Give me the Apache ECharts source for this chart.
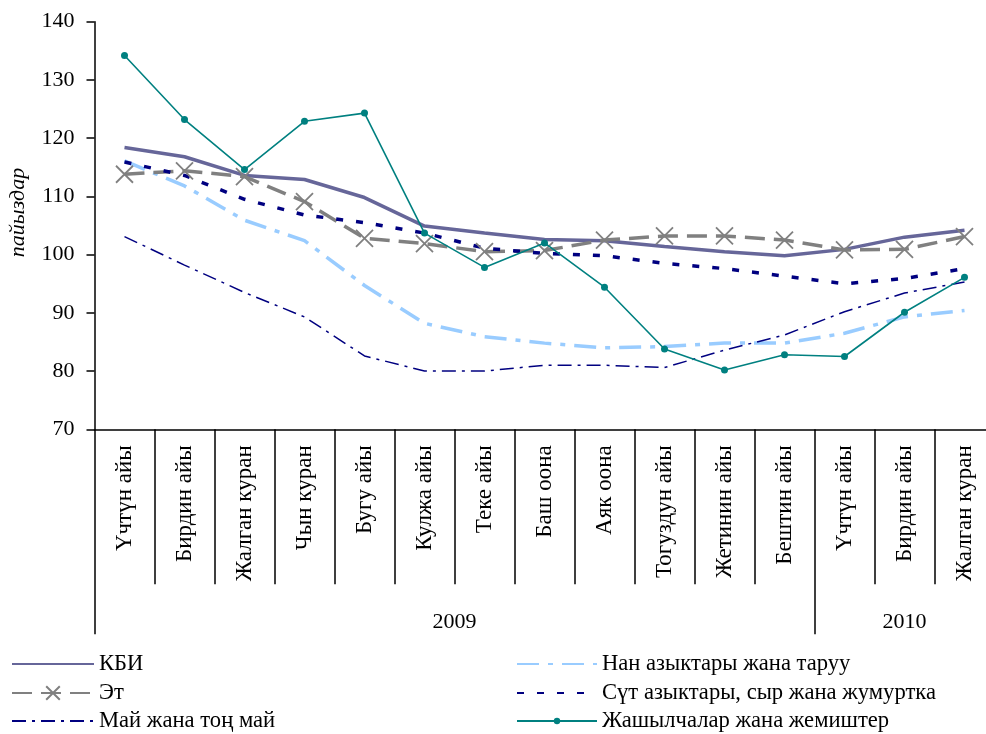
<!DOCTYPE html>
<html>
<head>
<meta charset="utf-8">
<script src="https://cdn.jsdelivr.net/npm/echarts@6/dist/echarts.min.js"></script>
<style>
html,body{margin:0;padding:0;overflow:hidden;background:#fff;}
#chart{width:1000px;height:734px;}
.fl{position:absolute;left:-9999px;top:0;font-family:"Liberation Serif";font-size:22px;}
</style>
</head>
<body>
<span class="fl">Үчтүн 140</span><span class="fl" style="font-style:italic">пайыздар</span>
<div id="chart"></div>
<script>
// ---- Data ----
const months = ['Үчтүн айы','Бирдин айы','Жалган куран','Чын куран','Бугу айы','Кулжа айы','Теке айы','Баш оона','Аяк оона','Тогуздун айы','Жетинин айы','Бештин айы','Үчтүн айы','Бирдин айы','Жалган куран'];
const years = ['2009','2010'];
const yearSpans = [12, 3];
const yTicks = [70, 80, 90, 100, 110, 120, 130, 140];

const kbi      = [118.4,116.8,113.6,112.9,109.8,104.9,103.7,102.6,102.4,101.4,100.5,99.8,100.9,103.0,104.2];
const et       = [113.8,114.4,113.4,109.1,102.8,101.9,100.5,100.7,102.5,103.2,103.2,102.5,100.8,100.9,103.1];
const nan      = [116.1,111.8,105.9,102.4,94.7,88.2,85.9,84.8,84.0,84.2,84.8,84.8,86.5,89.3,90.4];
const sut      = [115.9,113.6,109.5,106.8,105.5,103.7,101.1,100.2,99.8,98.5,97.6,96.3,95.0,95.9,97.6];
const mai      = [103.1,98.2,93.5,89.3,82.6,80.0,80.0,81.0,81.0,80.6,83.6,86.2,90.2,93.4,95.3];
const jash     = [134.2,123.2,114.6,122.9,124.3,103.7,97.8,102.0,94.4,83.8,80.2,82.8,82.5,90.1,96.1];

const names = ['КБИ','Нан азыктары жана таруу','Эт','Сүт азыктары, сыр жана жумуртка','Май жана тоң май','Жашылчалар жана жемиштер'];

// year boundaries and centers (in category units)
const yearBounds = [0];
yearSpans.forEach(s => yearBounds.push(yearBounds[yearBounds.length-1] + s));
const yearCenters = yearSpans.map((s,i) => yearBounds[i] + s/2);

const FONT = '"Liberation Serif", serif';

function leg(name, left, top, itemWidth, itemHeight, hideSymbol){
  const o = {
    data:[name], orient:'horizontal', left:left, top:top, padding:0,
    itemWidth:itemWidth, itemHeight:itemHeight,
    textStyle:{fontFamily:FONT, fontSize:22.6, color:'#000', lineHeight:24, padding:[4,0,0,0]}
  };
  if (hideSymbol) o.itemStyle = {opacity:0};
  return o;
}

function draw(){
  const chart = echarts.init(document.getElementById('chart'), null, {renderer:'canvas'});
  const option = {
    animation:false,
    backgroundColor:'#fff',
    textStyle:{fontFamily:FONT},
    grid:{left:94.5, top:21.7, width:900, height:407.6, outerBoundsMode:'none', containLabel:false},
    legend:[
      leg(names[0], 11, 650, 82, 14, true),
      leg(names[2], 11, 679, 82, 17, false),
      leg(names[4], 11, 707, 82, 14, true),
      leg(names[1], 516, 650, 80, 14, true),
      leg(names[3], 516, 679, 80, 14, true),
      leg(names[5], 516, 707, 80, 8, false)
    ],
    xAxis:[
      {
        type:'category', data:months, boundaryGap:true,
        axisLine:{show:true, lineStyle:{color:'#000', width:1.5}},
        axisTick:{show:true, interval:0, length:155, lineStyle:{color:'#000', width:1.5}},
        axisLabel:{interval:0, rotate:90, margin:16, fontFamily:FONT, fontSize:23, color:'#000'},
        splitLine:{show:false}
      },
      {
        type:'value', min:0, max:15, position:'bottom',
        axisLine:{show:false},
        splitLine:{show:false},
        axisTick:{show:true, customValues:yearBounds, length:205, lineStyle:{color:'#000', width:1.5}},
        axisLabel:{show:true, customValues:yearCenters, margin:182, fontFamily:FONT, fontSize:22, color:'#000',
          formatter:function(v){ const i = yearCenters.indexOf(v); return i>=0 ? years[i] : ''; }}
      }
    ],
    yAxis:{
      type:'value', min:70, max:140, interval:10,
      name:'пайыздар', nameLocation:'middle', nameGap:65, nameRotate:90,
      nameTextStyle:{fontFamily:FONT, fontSize:22, fontStyle:'italic', color:'#000', padding:[0,0,0,26]},
      axisLine:{show:true, lineStyle:{color:'#000', width:1.5}},
      axisTick:{show:true, length:8, lineStyle:{color:'#000', width:1.5}},
      axisLabel:{fontFamily:FONT, fontSize:22, color:'#000', margin:20,
        formatter:function(v){ return yTicks.indexOf(v)>=0 ? String(v) : ''; }},
      splitLine:{show:false}
    },
    series:[
      {name:names[0], type:'line', data:kbi, symbol:'none', lineStyle:{color:'#666699', width:3.5}, itemStyle:{color:'#666699'}, z:2},
      {name:names[1], type:'line', data:nan, symbol:'none', lineStyle:{color:'#99CCFF', width:3.5, type:[22,9,5,9]}, itemStyle:{color:'#99CCFF'}, z:2},
      {name:names[2], type:'line', data:et, symbol:'path://M0,0L10,10M10,0L0,10', symbolSize:17,
        lineStyle:{color:'#808080', width:3.5, type:[20,9]},
        itemStyle:{color:'#808080', borderColor:'#808080', borderWidth:1.8}, z:3},
      {name:names[3], type:'line', data:sut, symbol:'none', lineStyle:{color:'#000080', width:3.5, type:[7,13]}, itemStyle:{color:'#000080'}, z:3},
      {name:names[4], type:'line', data:mai, symbol:'none', lineStyle:{color:'#000080', width:1.5, type:[14,6,3,6]}, itemStyle:{color:'#000080'}, z:3},
      {name:names[5], type:'line', data:jash, symbol:'circle', symbolSize:7, lineStyle:{color:'#008080', width:1.6}, itemStyle:{color:'#008080'}, z:4}
    ]
  };
  chart.setOption(option);
}

let drawn = false;
function go(){ if (!drawn){ drawn = true; draw(); } }
if (document.fonts && document.fonts.load) {
  Promise.all([
    document.fonts.load('22px "Liberation Serif"', 'Үчтүн 140'),
    document.fonts.load('italic 22px "Liberation Serif"', 'пайыздар')
  ]).then(go, go);
  setTimeout(go, 1500);
} else {
  go();
}
</script>
</body>
</html>
